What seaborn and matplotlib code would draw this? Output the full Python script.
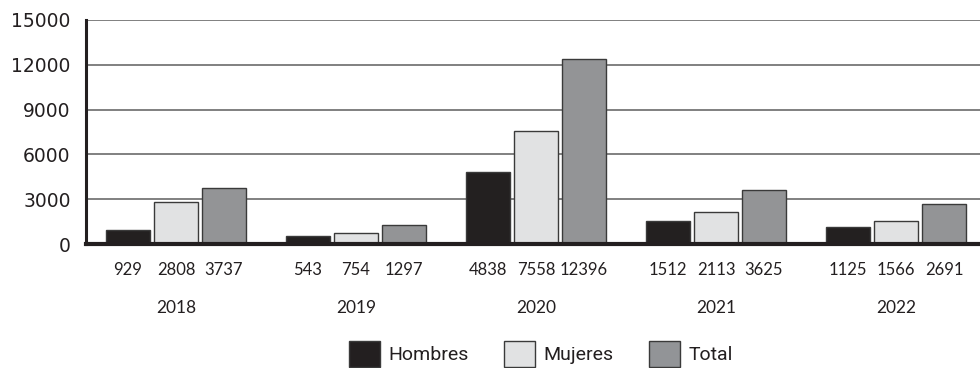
import matplotlib
matplotlib.use("Agg")
import matplotlib.pyplot as plt
import matplotlib.transforms as mtransforms
import seaborn as sns
import pandas as pd

years = ["2018", "2019", "2020", "2021", "2022"]
hombres = [929, 543, 4838, 1512, 1125]
mujeres = [2808, 754, 7558, 2113, 1566]
total = [3737, 1297, 12396, 3625, 2691]
series_names = ["Hombres", "Mujeres", "Total"]
y_ticks = [0, 3000, 6000, 9000, 12000, 15000]

colors = {"Hombres": "#231f20", "Mujeres": "#e1e2e3", "Total": "#929497"}

rows = []
for name, vals in zip(series_names, [hombres, mujeres, total]):
    for yr, v in zip(years, vals):
        rows.append({"Año": yr, "Grupo": name, "Valor": v})
df = pd.DataFrame(rows)

sns.set_theme(style="white")
plt.rcParams["font.family"] = ["Lato", "DejaVu Sans"]

fig = plt.figure(figsize=(9.8, 3.68), dpi=100)
ax = fig.add_axes([86 / 980, 1 - 244 / 368, 900 / 980, 224 / 368])

sns.barplot(data=df, x="Año", y="Valor", hue="Grupo", order=years,
            hue_order=series_names, palette=colors, width=0.8, gap=0.1,
            edgecolor="#3a3a3a", linewidth=1.0, ax=ax, legend=False)

ax.set_xlim(-0.5, 4.5)
ax.set_ylim(0, 15000)
ax.set_yticks(y_ticks)
ax.set_yticklabels([str(t) for t in y_ticks], fontsize=13.5, color="#231f20",
                   family=["DejaVu Sans"])
ax.tick_params(axis="y", length=0, pad=11)
ax.yaxis.grid(True, color="#808080", linewidth=1.4)
ax.set_axisbelow(True)
ax.set_xlabel("")
ax.set_ylabel("")

for side in ["top", "right"]:
    ax.spines[side].set_visible(False)
ax.spines["left"].set_color("#231f20")
ax.spines["left"].set_linewidth(2.2)
ax.spines["bottom"].set_color("#231f20")
ax.spines["bottom"].set_linewidth(3.0)

# value labels under each bar
trans = mtransforms.blended_transform_factory(ax.transData, ax.transAxes)
for container, vals in zip(ax.containers, [hombres, mujeres, total]):
    for patch, v in zip(container.patches, vals):
        cx = patch.get_x() + patch.get_width() / 2
        ax.text(cx, -0.118, str(v), transform=trans, ha="center", va="center",
                fontsize=12, color="#231f20")

ax.set_xticks(range(len(years)))
ax.set_xticklabels(years, fontsize=12.5, color="#231f20")
ax.tick_params(axis="x", length=0, pad=40)

handles = [plt.Rectangle((0, 0), 1, 1, facecolor=colors[n], edgecolor="#3a3a3a",
                         linewidth=1.0) for n in series_names]
leg = fig.legend(handles, series_names, loc="center", bbox_to_anchor=(541 / 980, 1 - 354 / 368),
                 ncol=3, frameon=False, handlelength=1.6, handleheight=1.75,
                 handletextpad=0.45, columnspacing=1.8,
                 prop={"family": ["Roboto", "DejaVu Sans"], "size": 14})
for t in leg.get_texts():
    t.set_color("#231f20")

fig.savefig("out.png", dpi=100)
